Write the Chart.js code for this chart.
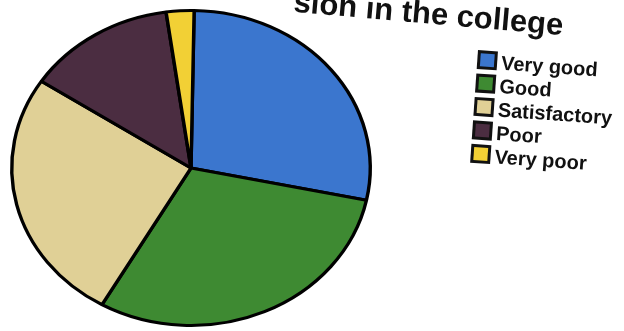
<!DOCTYPE html>
<html>
<head>
<meta charset="utf-8">
<script src="https://cdn.jsdelivr.net/npm/chart.js@4"></script>
<style>
html,body{margin:0;padding:0;background:#fff;}
#wrap{position:relative;width:624px;height:331px;}
</style>
</head>
<body>
<div id="wrap"><canvas id="c" width="624" height="331"></canvas></div>
<script>
const titleText = "sion in the college";
const categories = ["Very good", "Good", "Satisfactory", "Poor", "Very poor"];
const values = [28, 30, 26, 13.5, 2.5];
const colors = ["#3b76ce", "#3e8a32", "#e0d096", "#4b2d41", "#f2d035"];

const ellipsePlugin = {
  id: 'ellipse',
  beforeDatasetsDraw(chart) {
    const a = chart.chartArea, ctx = chart.ctx;
    const cx = (a.left + a.right) / 2, cy = (a.top + a.bottom) / 2;
    ctx.save();
    ctx.translate(cx, cy);
    ctx.scale(1.138, 1);
    ctx.translate(-cx, -cy);
  },
  afterDatasetsDraw(chart) { chart.ctx.restore(); }
};

const textPlugin = {
  id: 'texts',
  afterDraw(chart) {
    const ctx = chart.ctx;
    // title
    ctx.save();
    ctx.translate(365, 18);
    ctx.rotate(5 * Math.PI / 180);
    ctx.font = "bold 31px 'Liberation Sans', Arial, sans-serif";
    ctx.fillStyle = "#111";
    ctx.textBaseline = "alphabetic";
    const pre = "sion ";
    const w = ctx.measureText(pre).width;
    ctx.fillText(titleText, -w, 0);
    ctx.restore();
    // legend
    ctx.save();
    ctx.translate(478, 50);
    ctx.rotate(4 * Math.PI / 180);
    ctx.font = "bold 20px 'Liberation Sans', Arial, sans-serif";
    ctx.textBaseline = "alphabetic";
    categories.forEach((lab, i) => {
      const y = i * 23.5;
      ctx.fillStyle = "#111";
      ctx.fillRect(0, y, 20, 19);
      ctx.fillStyle = colors[i];
      ctx.fillRect(3, y + 3, 14, 13);
      ctx.fillStyle = "#111";
      ctx.fillText(lab, 24, y + 18);
    });
    ctx.restore();
  }
};

new Chart(document.getElementById('c'), {
  type: 'pie',
  data: {
    labels: categories,
    datasets: [{
      data: values,
      backgroundColor: colors,
      borderColor: "#000",
      borderWidth: 3
    }]
  },
  options: {
    responsive: false,
    animation: false,
    rotation: 1,
    layout: { padding: { left: 32, right: 274, top: 9, bottom: 4 } },
    plugins: {
      legend: { display: false },
      tooltip: { enabled: false },
      title: { display: false }
    }
  },
  plugins: [ellipsePlugin, textPlugin]
});
</script>
</body>
</html>
